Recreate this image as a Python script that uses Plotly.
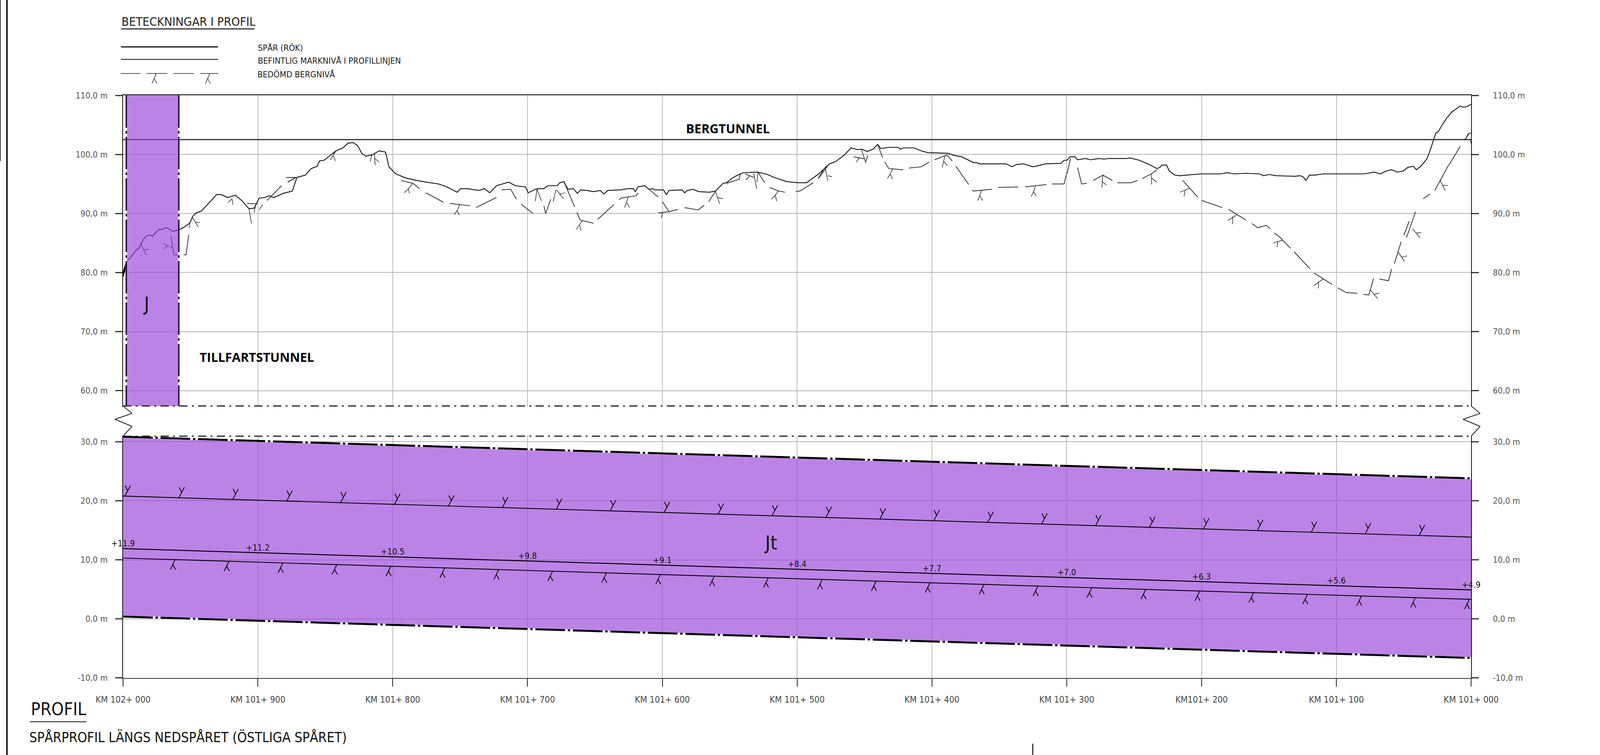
import plotly.graph_objects as go

REF_W, H = 4485, 1932
FONT = "DejaVu Sans Condensed, DejaVu Sans"
PURPLE = "rgba(152,65,218,0.65)"

# Distance along the profile in metres from KM 102+000, and elevation in metres
TERRAIN_C = [0,1.3,2.4,3.5,4.9,7,9.7,11.7,13.2,15,18,19.8,22,26.5,29,31.8,34.8,36.2,41.3,45.4,49.6,51.6,54.2,58,63,69.4,72.7,77.7,83.3,88.4,93.4,97.2,101,104.8,108.6,111.9,118.7,125.6,128.9,135.2,139.5,144,145.8,149,158,163,166.8,170.6,174,177,180,184.6,190,194.7,197.2,202.3,209.9,217.5,225,234,240.3,247.8,250.4,255.4,264,268,272,277,286,291,298.5,300.5,305.8,308,312,315,319,322,324,327,330,334,337,339.5,344,349,354,356.5,359.5,369,374,378.5,380,382,387,390,393,394.4,400.8,403,405,414.7,416.5,418.5,422.8,427,434.9,439.5,445,447.6,451.4,455,460,470.4,478,483,492,500.8,507,516,524,528.6,535,540,545,547.6,552,556.5,559.7,562,568,574.7,576.7,579,586.8,592,597,607,611.6,617,622,631,633.4,635,645,655,659.5,662.7,668,675,679,684,695.7,698,700,702.5,706,708,713.7,717.5,724,727.6,731,744,747,754,760,767,769,770.7,774,776,780,784,789,799,810,814,819,824,833,843,846,850,855.4,865.4,869,873,875.4,877.4,880,884,890.5,898,910.5,920.5,928,932.6,937,941,945,949.6,953,957,959.4,963,967,969.4,973.7,975.7,979,982,985.7,992,993.7,997,1000]
TERRAIN_E = [79.4,81,81.9,82.2,82.3,83,83.8,84.1,84.8,85.6,86.3,86.3,86.2,87.3,87.3,87.6,87.3,87,87.2,87.7,88.4,89.5,90.1,90.4,91.6,93.2,93.2,92.7,93.1,92.1,90.8,90.9,92.6,92.7,93,92.7,93.4,93.8,96.1,96.5,97.6,98,98.9,99,100.6,101.1,101.9,102,101.5,100.2,99.7,99.9,100.6,100.4,97.9,96.7,96,95.6,95.3,95,94.5,93.6,94.2,94.2,93.9,94.2,93.5,94.7,95.3,94.7,94.5,93.5,94.1,94.2,94.2,94.7,94.7,94.7,95.2,95.4,94.1,94.2,93.4,94,93.9,93.7,93.9,93.3,93.9,94,94.2,94.2,93.7,94.5,94.7,94.1,94.2,94,94,93.2,93.9,94,93.5,93.9,94.1,93.7,93.6,93.8,95.1,95.2,95.9,96.4,96.9,97,96.6,96.1,95.4,95.2,95.2,96.7,98.4,98.8,99.9,101.1,100.8,100.9,100.5,100.9,101.7,101,101.2,101.2,100.9,101.1,101.1,100.6,100.3,100.2,100.2,99.8,99.6,98.6,98.6,98.4,98.4,98.4,97.9,98.3,98.4,97.9,98.1,98.4,98.5,99,99,99.6,99.6,99.1,99.3,99.1,99.3,99.2,99.3,99.3,99.4,99,98.4,97.6,97.8,98.2,98.2,97.2,96.5,96.4,96.5,96.7,96.7,96.7,96.9,96.7,96.8,96.7,96.4,96.6,96.4,96.3,96.3,96.4,96.2,95.6,96.5,96.5,96.7,96.7,96.7,96.7,97,96.7,97.2,97.4,97,97.2,97.8,98,97.4,98.1,99.2,100.6,103.6,103.9,105.2,106.2,107.2,108.2,108,108.1,108.5]

TRACK_START_C = [-0.6, 2]
TRACK_START_E = [79.2, 81.2]

ROCK_C = [35.5,37.7,41,None,44.8,46.7,48.7,None,92,99.7,None,106.8,117.5,None,122.5,127.6,None,120.8,128.9,None,206,215,220,None,224.6,237.7,None,242.3,257.5,None,261.8,277,None,280.8,287.6,291.7,None,295.2,304,None,312.2,313.4,317.2,None,327,335,None,336.7,339,349,None,352,364,None,368,369.2,380.6,382,None,390.6,396.9,None,400,405,None,397,405,411.6,None,416.5,426.6,431,None,434.4,439.5,None,447.6,457,458,None,461.5,468,None,470.9,476,None,479.7,486,491,None,499,502,512,None,516,523.5,None,542,550,None,552.4,550.6,None,559.7,563.3,None,565,568,578.7,None,583,592,598,None,602,611,615,None,617.7,627.3,None,630,630.6,644.6,None,649,664,None,669,685,None,689,698,699.6,None,700,702.8,None,708,711,715,None,719.6,726.8,733.8,None,737.6,747.6,752.6,None,756,762.6,767,None,786,797,None,800,815.3,None,820,832.8,None,837.3,841.6,848,851,None,854,858,866,None,868.7,880.5,None,883.5,896.7,None,901,907.3,915.5,None,920,924,927.6,None,932,938.6,941,None,943,948,None,950,954,None,952,958.7,None,964.4,969.4,None,973,983,None,983.2,992,None,995,998.7,1000]
ROCK_E = [86.2,83,83,None,83,83,86.4,None,91.7,91.6,None,92.2,94.7,None,95.3,96.1,None,96.1,96.1,None,95.6,95.1,94.2,None,93.5,91.9,None,91.7,91.3,None,91,92.7,None,94,94.1,92.4,None,91.6,90,None,91.3,90,92.4,None,95.4,91.1,None,90.2,88.9,88.35,None,89,91.5,None,92.3,92.6,93,93.5,None,94,92.8,None,92,90.3,None,90.1,90.3,90.7,None,91,90.6,91.4,None,92,93.8,None,95.1,95.8,96.8,None,96.7,96.1,None,97,95.2,None,94.4,93.8,93.6,None,93.7,93.8,95.2,None,96,98.3,None,99.6,99.25,None,99.8,98.6,None,101.7,99.5,None,98.7,97.6,97.4,None,97.7,97.9,98.7,None,99.1,99.9,98.9,None,98,94.9,None,94,93.8,94.1,None,94.4,94.5,None,94.5,94.9,None,95,95,96.5,None,96.6,99.3,None,97.8,95,95.1,None,95.6,96.5,95.6,None,95.2,95.2,95.6,None,95.9,96.7,97.4,None,95.6,92.8,None,92.2,91,None,90.7,88.9,None,88.3,87.6,88,87.4,None,86.7,86,84.1,None,83.5,80.6,None,79.9,78,None,77.4,76.6,76.5,None,76.3,76.2,79,None,78.9,78.6,80.6,None,81.5,85.2,None,86.3,88.7,None,85.9,90.3,None,92.5,93.3,None,93.9,98.1,None,98.1,101.4,None,102.4,103.6,103.6]

ROCK_TICK_C = [13.2,17.2,None,15.3,19.1,None,29.5,36.8,None,33.1,30.2,None,49.6,49.1,None,51.6,55.8,None,53.8,56.9,None,80.8,77.7,None,80.8,81.5,None,93.4,95.2,None,98.5,97.2,None,103.5,101,None,128.4,122,None,158,153.7,None,156,157.5,None,186.3,187,None,186.3,190,None,184.6,183.3,None,215,211.6,208.6,None,211.6,212.4,None,249.6,247.8,245.8,None,247.8,249.4,None,307,305.8,None,307,310.4,None,321,319,None,321.5,326.6,None,324,328,None,340.8,336,None,338.7,339.7,None,374.7,372,None,373.4,375.7,None,400.3,399.2,None,439.5,442.5,None,440.8,445,None,464.8,462,None,467.8,470,None,470.9,470.2,None,486,483.8,481,None,483.8,484.8,None,521,515.4,None,521,522.8,None,522.8,525.8,None,546.3,543.8,None,547.6,550.9,None,570.9,569,567,None,569,570.6,None,609.6,607.6,None,608.9,611.4,None,636.7,635.4,634,None,635.4,637.7,None,676.7,675.4,673.7,None,675.4,677.5,None,726.8,726,None,726.2,729.5,None,762.6,763,None,763,766.7,None,791.5,784,None,787.7,787,None,826,819.5,None,823,823,None,860.4,853,None,856.6,856,None,890,883.5,None,886.7,886.7,None,925,930.6,None,927.8,931.8,None,945.6,950.6,None,948,952.4,None,956.4,962,None,959.4,963,None,977,980.7,None,979,982.7,None,999,1000,None,997.8,995.5]
ROCK_TICK_E = [84.8,83,None,83.9,83.9,None,84.9,84.2,None,84.6,83.9,None,88.4,87.5,None,89.3,87.7,None,88.5,88.5,None,92.5,91.8,None,92.5,91.5,None,90.8,88.3,None,91.6,90.2,None,91.5,90.6,None,96.1,95.3,None,100.6,99.1,None,99.8,98.9,None,100.2,98.2,None,99.4,98.7,None,100,98.8,None,95.1,94.2,93.5,None,94.2,93.4,None,91.5,90.5,89.8,None,90.5,89.7,None,94.1,92.1,None,94.1,92.1,None,94,92,None,94,92.5,None,93.3,93.5,None,88.8,87.3,None,88,87.1,None,92.75,91,None,91.9,91,None,90.2,89.3,None,93.7,91.65,None,92.7,92.5,None,96.4,95.7,None,96.8,94.2,None,97,95.3,None,93.8,93.1,92.4,None,93.1,92.1,None,97.9,95.9,None,97.5,95.5,None,96.4,96.2,None,99.5,98.7,None,100.9,98.6,None,97.6,96.7,95.9,None,96.7,95.8,None,99.7,97.8,None,98.8,98.1,None,93.9,93,92.2,None,93,92.2,None,94.6,93.7,92.9,None,93.7,92.9,None,96.5,94.4,None,95.4,94.8,None,96.7,94.9,None,96,95.3,None,94.3,93.6,None,93.9,92.9,None,89.75,88.8,None,89.5,88.2,None,85.5,85,None,85.3,84.3,None,78.9,77.8,None,78.4,77.3,None,77.1,75.6,None,76.3,76.5,None,83.5,81.9,None,82.6,82.8,None,87.4,85.9,None,86.7,86.8,None,95.6,93.9,None,94.8,94.7,None,102.6,101.8,None,103.6,102.4]

TUNNEL_ROOF_E = [102.5, 102.5]
BREAK_TOP_E = [57.4, 57.4]
BREAK_LOW_E = [30.95, 30.95]

BAND_C = [2.4, 41.3, 41.3, 2.4, 2.4]
BAND_E = [110, 110, 57.4, 57.4, 110]

ZONE_C = [0, 1000, 1000, 0, 0]
ZONE_E = [30.85, 23.8, -6.63, 0.38, 30.85]
ZONE_TOP_E = [30.85, 23.8]
ZONE_BOT_E = [0.38, -6.63]
ENDS_C = [0, 1000]
UPPER_LINE_E = [20.8, 13.85]
TRACK_E = [11.9, 4.9]
LOWER_LINE_E = [10.3, 3.3]

Y_MARK_C = [1.3,41.3,81.3,121.3,161.3,201.3,241.3,281.3,321.3,361.3,401.3,441.3,481.3,521.3,561.3,601.3,641.3,681.3,721.3,761.3,801.3,841.3,881.3,921.3,961.3]
Y_MARK_E = [20.79,20.51,20.23,19.95,19.68,19.40,19.12,18.84,18.57,18.29,18.01,17.73,17.46,17.18,16.90,16.62,16.35,16.07,15.79,15.51,15.24,14.96,14.68,14.40,14.12]
L_MARK_C = [38.6,78.6,118.6,158.6,198.6,238.6,278.6,318.6,358.6,398.6,438.6,478.6,518.6,558.6,598.6,638.6,678.6,718.6,758.6,798.6,838.6,878.6,918.6,958.6,998.6]
L_MARK_E = [10.03,9.75,9.47,9.19,8.91,8.63,8.35,8.07,7.79,7.51,7.23,6.95,6.67,6.39,6.11,5.83,5.55,5.27,4.99,4.71,4.43,4.15,3.87,3.59,3.31]

GRADE_C = [0,100,200,300,400,500,600,700,800,900,1000]
GRADE_E = [11.9,11.2,10.5,9.8,9.1,8.4,7.7,7.0,6.3,5.6,4.9]
GRADE_TEXT = ["+11.9","+11.2","+10.5","+9.8","+9.1","+8.4","+7.7","+7.0","+6.3","+5.6","+4.9"]

X_TICKS = [0,100,200,300,400,500,600,700,800,900,1000]
X_LABELS = ["KM 102+ 000","KM 101+ 900","KM 101+ 800","KM 101+ 700","KM 101+ 600","KM 101+ 500","KM 101+ 400","KM 101+ 300","KM101+ 200","KM 101+ 100","KM 101+ 000"]
UP_TICKS = [110,100,90,80,70,60]
UP_LABELS = ["110,0 m","100,0 m","90,0 m","80,0 m","70,0 m","60,0 m"]
LOW_TICKS = [30,20,10,0,-10]
LOW_LABELS = ["30,0 m","20,0 m","10,0 m","0,0 m","-10,0 m"]

# Layout as positions on the reference; the figure itself fills the window width
AX_L, AX_R = 345, 4124
UP_T, UP_B = 244, 1040.5
LOW_T, LOW_B = 1114.6, 1734.6
M_PER_PX = 1000 / (AX_R - AX_L)
E_PER_PX = 1 / 15.1


def xp(v):
    return v / REF_W


def yp(v):
    return 1 - v / H


def glyphs(cs, es, stroke, branch):
    xs, ys = [], []
    for c, e in zip(cs, es):
        for seg in (stroke, branch):
            for dx, dy in seg:
                xs.append(c + dx * M_PER_PX)
                ys.append(e - dy * E_PER_PX)
            xs.append(None)
            ys.append(None)
    return xs, ys


fig = go.Figure()
up = dict(xaxis="x2", yaxis="y2", hoverinfo="skip", showlegend=False)
low = dict(xaxis="x", yaxis="y", hoverinfo="skip", showlegend=False)
EDGE_DASH = "83px,8px,7px,8px"
LONG_DASH = "76px,7px,6px,7px"
FINE_DASH = "21px,11px,5px,11px"

# upper panel
fig.add_trace(go.Scatter(x=ENDS_C, y=TUNNEL_ROOF_E, mode="lines", line=dict(color="#333", width=3), **up))
fig.add_trace(go.Scatter(x=TERRAIN_C, y=TERRAIN_E, mode="lines", name="BEFINTLIG MARKNIVÅ I PROFILLINJEN", line=dict(color="#111", width=2.2), **up))
fig.add_trace(go.Scatter(x=TRACK_START_C, y=TRACK_START_E, mode="lines", line=dict(color="#000", width=5), **up))
fig.add_trace(go.Scatter(x=ROCK_C, y=ROCK_E, mode="lines", name="BEDÖMD BERGNIVÅ", line=dict(color="#333", width=2), **up))
fig.add_trace(go.Scatter(x=ROCK_TICK_C, y=ROCK_TICK_E, mode="lines", line=dict(color="#222", width=1.5), **up))
fig.add_trace(go.Scatter(x=BAND_C, y=BAND_E, mode="lines", fill="toself", fillcolor=PURPLE, line=dict(width=0), **up))
for cx in (BAND_C[0], BAND_C[1]):
    fig.add_trace(go.Scatter(x=[cx, cx], y=[BAND_E[0], BAND_E[2]], mode="lines", line=dict(color="#fff", width=4), **up))
    fig.add_trace(go.Scatter(x=[cx, cx], y=[BAND_E[0], BAND_E[2]], mode="lines", line=dict(color="#2a1140", width=4, dash=EDGE_DASH), **up))
fig.add_trace(go.Scatter(x=ENDS_C, y=BREAK_TOP_E, mode="lines", line=dict(color="#111", width=3, dash=FINE_DASH), **up))
fig.add_trace(go.Scatter(x=[1000], y=[60], mode="markers", marker=dict(opacity=0), xaxis="x2", yaxis="y4", hoverinfo="skip", showlegend=False))

# lower panel
fig.add_trace(go.Scatter(x=ZONE_C, y=ZONE_E, mode="lines", fill="toself", fillcolor=PURPLE, line=dict(width=0), **low))
fig.add_trace(go.Scatter(x=ENDS_C, y=BREAK_LOW_E, mode="lines", line=dict(color="#111", width=3, dash=FINE_DASH), **low))
for edge in (ZONE_TOP_E, ZONE_BOT_E):
    fig.add_trace(go.Scatter(x=ENDS_C, y=edge, mode="lines", line=dict(color="#fff", width=5), **low))
    fig.add_trace(go.Scatter(x=ENDS_C, y=edge, mode="lines", line=dict(color="#000", width=5, dash=LONG_DASH), **low))
fig.add_trace(go.Scatter(x=ENDS_C, y=UPPER_LINE_E, mode="lines", line=dict(color="#000", width=2.2), **low))
fig.add_trace(go.Scatter(x=ENDS_C, y=TRACK_E, mode="lines", name="SPÅR (RÖK)", line=dict(color="#000", width=2.5), **low))
fig.add_trace(go.Scatter(x=ENDS_C, y=LOWER_LINE_E, mode="lines", line=dict(color="#000", width=2.2), **low))
yx, yy = glyphs(Y_MARK_C, Y_MARK_E, [(0, 0), (16, -27)], [(8.6, -13), (1, -27)])
fig.add_trace(go.Scatter(x=yx, y=yy, mode="lines", line=dict(color="#000", width=2), **low))
lx, ly = glyphs(L_MARK_C, L_MARK_E, [(0, 0), (-13.4, 25)], [(-6.7, 12.5), (1, 25)])
fig.add_trace(go.Scatter(x=lx, y=ly, mode="lines", line=dict(color="#000", width=2), **low))
fig.add_trace(go.Scatter(x=GRADE_C, y=GRADE_E, mode="text", text=GRADE_TEXT, textposition="top center",
                         textfont=dict(family=FONT, size=22, color="#111"), cliponaxis=False, **low))
fig.add_trace(go.Scatter(x=[1000], y=[0], mode="markers", marker=dict(opacity=0), xaxis="x", yaxis="y3", hoverinfo="skip", showlegend=False))

tick_font = dict(family=FONT, size=22, color="#555")
x_dom = [xp(AX_L), xp(AX_R)]
up_dom = [yp(UP_B), yp(UP_T)]
low_dom = [yp(LOW_B), yp(LOW_T)]
grid_y = dict(showgrid=True, gridcolor="#b4b4b4", gridwidth=2, zeroline=False, showline=True, linecolor="#111", linewidth=2,
              ticks="outside", ticklen=18, tickwidth=2.5, tickcolor="#333", tickfont=tick_font, tickmode="array", automargin=False)
no_grid = {**grid_y, "showgrid": False}

fig.update_layout(
    height=H, margin=dict(l=0, r=0, t=0, b=0), autosize=True,
    paper_bgcolor="white", plot_bgcolor="rgba(0,0,0,0)", showlegend=False,
    xaxis=dict(domain=x_dom, range=[0, 1000], anchor="y", tickmode="array", tickvals=X_TICKS, ticktext=X_LABELS,
               showgrid=True, gridcolor="#808080", gridwidth=1, zeroline=False, showline=True, linecolor="#333", linewidth=2,
               ticks="outside", ticklen=20, tickwidth=2, tickcolor="#222", tickfont=dict(family=FONT, size=23, color="#444"),
               ticklabelstandoff=14, tickangle=0, automargin=False),
    xaxis2=dict(domain=x_dom, matches="x", anchor="y2", side="top", tickmode="array", tickvals=X_TICKS, showticklabels=False,
                ticks="", showgrid=True, gridcolor="#808080", gridwidth=1, zeroline=False, showline=True, linecolor="#444", linewidth=3, automargin=False),
    yaxis=dict(domain=low_dom, range=[-10, 31.05], anchor="x", tickvals=LOW_TICKS, ticktext=LOW_LABELS, ticklabelstandoff=15, **grid_y),
    yaxis2=dict(domain=up_dom, range=[57.3, 110], anchor="x2", tickvals=UP_TICKS, ticktext=UP_LABELS, ticklabelstandoff=15, **grid_y),
    yaxis3=dict(domain=low_dom, range=[-10, 31.05], anchor="x", overlaying="y", side="right", tickvals=LOW_TICKS, ticktext=LOW_LABELS, ticklabelstandoff=31, **no_grid),
    yaxis4=dict(domain=up_dom, range=[57.3, 110], anchor="x2", overlaying="y2", side="right", tickvals=UP_TICKS, ticktext=UP_LABELS, ticklabelstandoff=31, **no_grid),
)


def note(text, x, y, size, color="#111", family=FONT, anchor="left"):
    fig.add_annotation(text=text, xref="paper", yref="paper", x=xp(x), y=yp(y), xanchor=anchor, yanchor="middle",
                       showarrow=False, font=dict(family=family, size=size, color=color))


def rule(x0, y0, x1, y1, width=2, color="#111", dash=None):
    fig.add_shape(type="line", xref="paper", yref="paper", x0=xp(x0), y0=yp(y0), x1=xp(x1), y1=yp(y1),
                  line=dict(color=color, width=width, dash=dash), layer="above")


note("BETECKNINGAR I PROFIL", 338, 55, 31, color="#222")
note("SPÅR (RÖK)", 720, 122, 22, color="#222")
note("BEFINTLIG MARKNIVÅ I PROFILLINJEN", 720, 155, 22, color="#222")
note("BEDÖMD BERGNIVÅ", 719, 190, 22, color="#222")
note("<b>BERGTUNNEL</b>", 2040, 328, 32, color="#000", family="Open Sans", anchor="center")
note("<b>TILLFARTSTUNNEL</b>", 720, 913, 32, color="#000", family="Open Sans", anchor="center")
note("J", 410, 778, 50, color="#111", anchor="center")
note("Jt", 2160, 1389, 50, color="#111", anchor="center")
note("PROFIL", 84, 1814, 45, color="#111")
note("SPÅRPROFIL LÄNGS NEDSPÅRET (ÖSTLIGA SPÅRET)", 80, 1886, 35, color="#111")

rule(339, 74, 713, 74, 2.5)
rule(84, 1847, 242, 1847, 2)
rule(339, 120, 611, 120, 3, "#111")
rule(339, 152, 611, 152, 2.5, "#333")
for a, b in ((338, 394), (411, 469), (486, 543), (561, 612)):
    rule(a, 188, b, 188, 2, "#555")
for tx in (438, 588):
    rule(tx, 188, tx - 12, 214, 1.5, "#222")
    rule(tx - 6, 201, tx + 2, 214, 1.5, "#222")
for ax in (AX_L, AX_R):
    pts = [(ax, 1039), (ax + 25, 1058), (ax - 23, 1073), (ax + 25, 1091), (ax, 1116)]
    for p, q in zip(pts, pts[1:]):
        rule(p[0], p[1], q[0], q[1], 2, "#222")
rule(19.5, 0, 19.5, H, 3.5, "#000")
rule(1, 0, 1, 412, 2, "#333")
rule(2895, 1903, 2895, 1932, 2.5, "#111")

fig.write_html(
    "out.html",
    config={"responsive": True, "displayModeBar": False},
    post_script="document.body.style.margin='0';document.body.style.overflow='hidden';"
                "Plotly.Plots.resize(document.getElementById('{plot_id}'));",
)
